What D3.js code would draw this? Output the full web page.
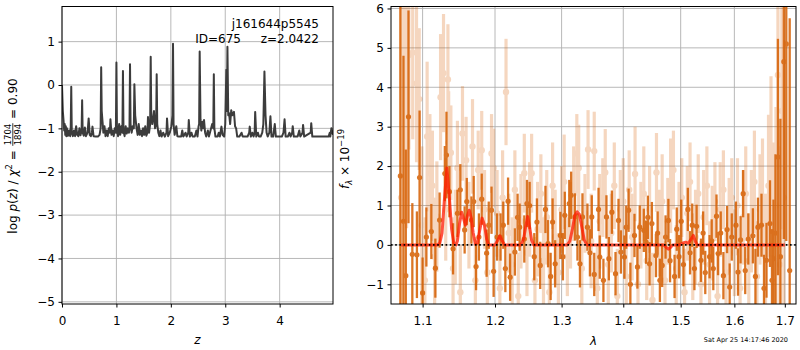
<!DOCTYPE html>
<html><head><meta charset="utf-8">
<script src="https://cdn.jsdelivr.net/npm/d3@7"></script>
<style>body{margin:0;background:#fff} svg{display:block} text{font-family:"DejaVu Sans",sans-serif}</style>
</head><body>
<svg id="c" width="800" height="350"></svg>
<script>
// ---------------- data ----------------
const zTicks = [0, 1, 2, 3, 4];
const logpTicks = [-5, -4, -3, -2, -1, 0, 1];
const lamTicks = [1.1, 1.2, 1.3, 1.4, 1.5, 1.6, 1.7];
const fluxTicks = [-1, 0, 1, 2, 3, 4, 5, 6];

// log p(z) curve [z, log p]
const pzCurve = [[0.00,0.00],[0.015,-0.60],[0.03,-0.85],[0.04,-1.05],[0.05,-0.90],[0.06,-1.15],[0.07,-0.95],[0.08,-1.18],[0.09,-1.00],[0.11,-1.17],[0.13,-1.05],[0.15,-1.18],[0.16,-1.00],[0.17,-0.04],[0.18,-1.10],[0.20,-1.18],[0.22,-1.05],[0.24,-1.18],[0.26,-0.95],[0.28,-1.15],[0.30,-1.18],[0.32,-1.00],[0.34,-1.16],[0.36,-1.05],[0.37,-0.35],[0.38,-1.10],[0.40,-1.17],[0.42,-0.98],[0.44,-1.18],[0.47,-1.10],[0.49,-0.77],[0.51,-1.15],[0.53,-1.18],[0.55,-1.10],[0.56,-0.96],[0.58,-1.18],[0.62,-1.19],[0.66,-1.19],[0.69,-1.15],[0.71,-1.00],[0.72,0.41],[0.73,-0.60],[0.745,-0.85],[0.76,-1.10],[0.78,-0.95],[0.80,-1.18],[0.82,-1.05],[0.84,-1.18],[0.86,-1.00],[0.88,-1.10],[0.89,-0.79],[0.91,-1.15],[0.93,-1.05],[0.95,-1.18],[0.97,-1.00],[0.99,-1.10],[1.00,0.52],[1.01,-1.00],[1.03,-1.18],[1.05,-0.90],[1.07,-1.15],[1.09,-0.95],[1.11,-1.10],[1.12,0.32],[1.13,-1.05],[1.15,-1.18],[1.17,-0.95],[1.19,-1.12],[1.21,-1.00],[1.23,-1.10],[1.24,-1.00],[1.25,0.48],[1.26,-0.90],[1.28,-1.10],[1.30,-0.95],[1.32,-1.00],[1.33,0.02],[1.345,-0.70],[1.37,-1.00],[1.39,-1.15],[1.41,-0.90],[1.43,-1.15],[1.45,-1.05],[1.47,-1.18],[1.49,-1.00],[1.51,-1.15],[1.53,-0.95],[1.55,-1.17],[1.57,-1.10],[1.58,-0.74],[1.60,-1.10],[1.62,-0.90],[1.63,0.65],[1.64,-0.70],[1.66,-0.90],[1.69,-0.60],[1.71,-1.00],[1.73,-0.90],[1.74,0.25],[1.75,-0.90],[1.77,-1.10],[1.79,-1.18],[1.81,-1.05],[1.83,-1.19],[1.86,-1.10],[1.89,-1.19],[1.92,-1.10],[1.93,-0.77],[1.95,-1.18],[1.98,-1.10],[2.01,-0.95],[2.03,-0.70],[2.04,0.95],[2.05,-0.90],[2.07,-1.15],[2.10,-0.95],[2.12,-1.18],[2.15,-1.19],[2.19,-1.19],[2.21,-1.05],[2.23,-1.19],[2.27,-1.10],[2.29,-1.19],[2.32,-1.10],[2.33,-0.81],[2.35,-1.19],[2.38,-1.10],[2.40,-1.19],[2.44,-1.19],[2.47,-1.05],[2.49,-1.19],[2.51,-0.95],[2.52,-0.90],[2.53,0.77],[2.545,-0.80],[2.56,-1.05],[2.58,-0.85],[2.60,-1.00],[2.61,-0.81],[2.63,-1.10],[2.65,-1.19],[2.68,-1.05],[2.70,-1.19],[2.74,-1.00],[2.76,-0.90],[2.78,-1.00],[2.79,0.25],[2.80,-1.00],[2.82,-1.19],[2.86,-1.19],[2.88,-1.10],[2.90,-1.19],[2.93,-0.96],[2.95,-1.15],[2.98,-1.19],[3.00,-0.90],[3.02,0.35],[3.03,-0.60],[3.04,0.88],[3.055,-0.70],[3.07,-0.65],[3.09,-0.90],[3.11,-0.58],[3.13,-0.70],[3.16,-0.62],[3.18,-0.95],[3.20,-1.00],[3.22,-1.19],[3.26,-1.19],[3.30,-1.10],[3.32,-1.19],[3.37,-1.19],[3.41,-1.19],[3.44,-1.10],[3.45,-0.96],[3.47,-1.19],[3.50,-1.10],[3.52,-1.19],[3.54,-1.10],[3.55,-0.62],[3.57,-1.19],[3.60,-1.10],[3.62,-1.19],[3.65,-1.19],[3.68,-1.10],[3.70,-0.90],[3.72,0.31],[3.74,-0.70],[3.76,-1.10],[3.78,-1.19],[3.81,-1.10],[3.83,-0.72],[3.85,-1.19],[3.88,-1.19],[3.91,-0.90],[3.93,-1.19],[4.00,-1.19],[4.04,-1.19],[4.07,-1.10],[4.09,-0.79],[4.11,-1.19],[4.15,-1.19],[4.18,-1.10],[4.20,-1.19],[4.23,-1.10],[4.24,-0.95],[4.26,-1.19],[4.33,-1.19],[4.36,-1.05],[4.38,-1.19],[4.42,-1.10],[4.43,-0.92],[4.45,-1.19],[4.57,-1.10],[4.58,-0.88],[4.60,-1.19],[4.90,-1.19],[4.92,-1.10],[4.93,-1.19],[4.95,-1.00],[4.98,-1.15]];

// G141 binned spectrum [lambda (micron), flux, error]
const g141Dark = [[1.071,1.75,5.0],[1.075,0.6,4.2],[1.078,-0.78,3.2],[1.0815,3.25,2.7],[1.0865,-0.24,1.3],[1.0925,-0.25,1.1],[1.096,1.71,1.7],[1.100,-1.22,0.9],[1.105,0.2,0.75],[1.1116,0.34,0.7],[1.117,-0.59,0.75],[1.1227,0.63,0.7],[1.1298,1.81,0.7],[1.132,2.28,1.1],[1.136,1.35,0.65],[1.141,-0.1,0.65],[1.147,0.8,0.6],[1.151,1.4,0.65],[1.157,0.38,0.6],[1.160,1.1,0.6],[1.1665,0.63,0.6],[1.1697,1.1,0.65],[1.173,-0.55,0.6],[1.177,0.2,0.6],[1.181,1.16,0.65],[1.188,-0.21,0.6],[1.191,0.5,0.6],[1.195,0.88,0.6],[1.198,-0.67,0.65],[1.203,0.2,0.6],[1.208,0.2,0.6],[1.212,0.5,0.6],[1.215,-0.6,0.6],[1.219,1.11,0.6],[1.222,-0.82,0.6],[1.229,-0.18,0.6],[1.233,0.7,0.6],[1.236,0.45,0.6],[1.243,0.15,0.6],[1.247,1.05,0.6],[1.251,1.0,0.6],[1.258,-0.3,0.6],[1.262,0.58,0.6],[1.267,-0.52,0.6],[1.275,0.9,0.6],[1.279,0.03,0.6],[1.283,-0.8,0.6],[1.286,0.58,0.6],[1.290,-0.48,0.6],[1.298,0.24,0.6],[1.302,-0.3,0.6],[1.305,0.75,0.6],[1.312,1.05,0.6],[1.315,1.26,0.6],[1.321,0.71,0.6],[1.325,0.2,0.6],[1.329,-0.48,0.6],[1.333,0.71,0.6],[1.341,0.45,0.6],[1.345,-0.2,0.6],[1.348,0.71,0.55],[1.352,-0.75,0.55],[1.359,0.9,0.55],[1.361,-0.31,0.55],[1.367,-0.9,0.55],[1.372,0.71,0.55],[1.376,-0.35,0.55],[1.381,0.83,0.55],[1.387,-0.73,0.55],[1.392,0.62,0.55],[1.396,-0.18,0.55],[1.402,-0.31,0.55],[1.405,0.45,0.55],[1.409,0.88,0.55],[1.412,-1.0,0.55],[1.419,0.24,0.55],[1.424,-0.56,0.55],[1.428,0.45,0.55],[1.435,0.37,0.55],[1.439,0.07,0.55],[1.442,0.7,0.55],[1.445,-0.48,0.55],[1.449,0.54,0.55],[1.456,-0.27,0.55],[1.459,0.3,0.55],[1.463,-0.9,0.55],[1.467,-0.52,0.55],[1.473,0.2,0.55],[1.478,0.62,0.55],[1.481,-0.4,0.55],[1.489,-0.8,0.55],[1.493,0.4,0.55],[1.497,-0.3,0.55],[1.501,0.6,0.55],[1.505,-0.5,0.55],[1.513,0.9,0.55],[1.517,-0.2,0.55],[1.521,0.5,0.55],[1.525,-0.6,0.55],[1.529,0.47,0.55],[1.537,-0.39,0.55],[1.541,0.3,0.55],[1.545,-0.7,0.55],[1.553,-0.3,0.55],[1.557,0.1,0.55],[1.560,-0.6,0.55],[1.566,0.73,0.55],[1.569,-0.22,0.55],[1.574,0.3,0.55],[1.579,-0.78,0.6],[1.586,0.39,0.6],[1.591,-1.07,0.6],[1.595,0.2,0.6],[1.603,0.5,0.6],[1.607,-0.69,0.6],[1.612,0.13,0.6],[1.617,1.3,0.6],[1.621,-0.65,0.6],[1.627,0.15,0.65],[1.636,0.23,0.7],[1.641,-0.8,0.7],[1.646,0.45,0.75],[1.653,0.5,0.8],[1.658,-1.1,0.85],[1.663,-0.39,0.95],[1.670,0.54,1.1],[1.674,-0.9,1.3],[1.677,-0.35,1.5],[1.681,0.3,2.0],[1.686,2.23,3.0],[1.691,-0.3,3.5],[1.698,4.65,4.5],[1.703,5.1,5.0],[1.710,-0.65,6.4]];

// G141 unbinned / second-orient spectrum [lambda, flux, error]
const g141Light = [[1.072,1.2,5.0],[1.0756,3.57,3.0],[1.077,4.97,2.5],[1.079,3.42,3.0],[1.082,4.82,2.4],[1.087,4.88,2.2],[1.092,4.1,2.0],[1.0955,3.7,1.8],[1.099,0.5,2.0],[1.103,-0.9,1.6],[1.106,2.75,1.9],[1.1097,1.82,1.5],[1.113,1.5,1.4],[1.116,-0.3,1.5],[1.119,0.72,1.4],[1.124,3.75,1.6],[1.128,4.36,1.5],[1.131,0.9,1.3],[1.134,4.2,1.4],[1.135,2.6,1.3],[1.138,2.34,1.2],[1.141,-0.6,1.3],[1.144,0.2,1.2],[1.147,1.95,1.2],[1.151,-1.2,1.2],[1.154,2.83,1.2],[1.159,2.15,1.1],[1.163,0.5,1.1],[1.168,2.5,1.2],[1.172,-0.9,1.1],[1.176,1.9,1.0],[1.181,2.4,1.0],[1.185,0.9,1.0],[1.189,-0.7,1.0],[1.195,2.32,1.0],[1.198,1.95,1.0],[1.203,0.8,1.1],[1.207,-1.1,1.0],[1.211,1.2,1.2],[1.216,3.88,1.35],[1.220,0.3,1.0],[1.225,-0.5,1.2],[1.229,1.4,1.0],[1.234,-1.3,1.1],[1.238,0.6,1.2],[1.243,1.82,1.0],[1.247,-0.2,1.1],[1.251,0.9,1.2],[1.254,1.82,1.0],[1.259,-0.9,1.1],[1.263,0.4,1.2],[1.268,1.3,1.0],[1.272,-0.4,1.1],[1.277,0.7,1.2],[1.281,-1.2,1.0],[1.286,1.5,1.1],[1.290,0.2,1.2],[1.295,-0.7,1.0],[1.300,0.9,1.1],[1.304,1.6,1.2],[1.309,-0.3,1.0],[1.314,0.5,1.1],[1.319,1.3,1.2],[1.324,2.32,1.0],[1.327,1.95,1.1],[1.332,-0.6,1.2],[1.337,0.8,1.0],[1.342,2.42,1.0],[1.347,0.1,1.2],[1.352,2.38,1.0],[1.357,-1.1,1.1],[1.361,0.6,1.2],[1.366,1.2,1.0],[1.370,1.84,1.1],[1.375,-0.5,1.2],[1.380,0.3,1.0],[1.385,1.5,1.1],[1.390,-1.3,1.2],[1.395,0.9,1.0],[1.400,1.1,1.1],[1.405,-0.8,1.2],[1.410,1.4,1.0],[1.415,0.2,1.1],[1.420,1.8,1.2],[1.425,-1.0,1.0],[1.430,0.5,1.1],[1.435,1.3,1.2],[1.440,-0.4,1.0],[1.445,0.9,1.1],[1.450,-1.4,1.2],[1.457,1.84,1.0],[1.462,0.3,1.1],[1.467,1.1,1.2],[1.472,-0.9,1.0],[1.477,0.6,1.1],[1.482,1.5,1.2],[1.487,1.9,1.0],[1.492,-0.6,1.1],[1.497,0.4,1.2],[1.502,1.2,1.0],[1.507,-1.2,1.1],[1.512,0.8,1.2],[1.517,1.6,1.0],[1.522,-0.3,1.1],[1.527,0.2,1.2],[1.532,1.3,1.0],[1.537,-1.0,1.1],[1.542,0.7,1.2],[1.548,1.5,1.0],[1.553,-0.5,1.1],[1.558,0.3,1.2],[1.563,1.1,1.0],[1.568,-1.3,1.1],[1.573,0.9,1.2],[1.579,1.4,1.0],[1.584,-0.7,1.1],[1.590,0.5,1.2],[1.595,1.2,1.0],[1.600,-0.2,1.1],[1.606,1.0,1.2],[1.611,-1.1,1.1],[1.617,0.7,1.2],[1.622,1.3,1.2],[1.628,-0.4,1.2],[1.633,0.6,1.3],[1.639,1.6,1.3],[1.644,-0.8,1.4],[1.650,0.9,1.4],[1.655,1.2,1.5],[1.661,-0.3,1.6],[1.667,1.5,1.8],[1.672,2.28,2.0],[1.677,0.4,2.2],[1.682,1.0,2.5],[1.686,4.31,2.4],[1.690,-0.5,3.0],[1.694,3.4,3.0],[1.698,1.2,4.0]];

// best-fit line model [lambda, flux]
const modelLine = [[1.072,0],[1.120,0],[1.123,0.05],[1.126,0.3],[1.129,1.1],[1.1325,1.95],[1.136,1.2],[1.139,0.4],[1.142,0.05],[1.145,0],[1.147,0.1],[1.150,0.55],[1.1528,0.83],[1.155,0.7],[1.158,0.5],[1.161,0.75],[1.1634,0.88],[1.166,0.7],[1.169,0.3],[1.172,0.02],[1.175,0.05],[1.178,0.35],[1.1815,0.68],[1.185,0.5],[1.188,0.15],[1.191,0],[1.200,0],[1.204,0.12],[1.207,0.23],[1.210,0.12],[1.214,0],[1.238,0],[1.242,0.15],[1.245,0.45],[1.248,0.72],[1.251,0.45],[1.254,0.12],[1.257,0],[1.309,0],[1.313,0.1],[1.317,0.4],[1.321,0.75],[1.3245,0.84],[1.328,0.78],[1.332,0.45],[1.336,0.12],[1.340,0],[1.470,0],[1.474,-0.06],[1.478,-0.11],[1.482,-0.06],[1.486,0],[1.498,0],[1.504,0.05],[1.509,0.07],[1.514,0.04],[1.519,0.15],[1.523,0.24],[1.527,0.08],[1.530,0],[1.700,0]];

const title1 = "j161644p5545";
const title2a = "ID=675";
const title2b = "z=2.0422";
const stamp = "Sat Apr 25 14:17:46 2020";

// ---------------- drawing ----------------
const svg = d3.select("#c");
const FONT = "DejaVu Sans";
const FS = 12;
const yTop = 6.5, yBot = 304;
const L = {x0: 62, x1: 333};
const R = {x0: 391, x1: 796};
const ORANGE = "#d55e00";

const xL = d3.scaleLinear().domain([0, 4.98]).range([L.x0, L.x1]);
const yL = d3.scaleLinear().domain([-5.05, 1.81]).range([yBot, yTop]);
const xR = d3.scaleLog().domain([1.059, 1.723]).range([R.x0, R.x1]);
const yR = d3.scaleLinear().domain([-1.5, 6.05]).range([yBot, yTop]);

const defs = svg.append("defs");
defs.append("clipPath").attr("id", "clipL").append("rect")
  .attr("x", L.x0).attr("y", yTop).attr("width", L.x1 - L.x0).attr("height", yBot - yTop);
defs.append("clipPath").attr("id", "clipR").append("rect")
  .attr("x", R.x0).attr("y", yTop).attr("width", R.x1 - R.x0).attr("height", yBot - yTop);

function grid(x, y, xt, yt, P) {
  const g = svg.append("g").attr("stroke", "#b0b0b0").attr("stroke-width", 0.9);
  g.selectAll(".gx").data(xt).join("line").attr("class", "gx")
    .attr("x1", d => x(d)).attr("x2", d => x(d)).attr("y1", yTop).attr("y2", yBot);
  g.selectAll(".gy").data(yt).join("line").attr("class", "gy")
    .attr("x1", P.x0).attr("x2", P.x1).attr("y1", d => y(d)).attr("y2", d => y(d));
}
function frameAxes(x, y, xt, yt, xf, yf, P) {
  const ax = svg.append("g").attr("transform", `translate(0,${yBot})`)
    .call(d3.axisBottom(x).tickValues(xt).tickFormat(xf).tickSize(3.5).tickPadding(8.5));
  ax.select(".domain").remove();
  ax.attr("font-size", FS).attr("font-family", FONT);
  const ay = svg.append("g").attr("transform", `translate(${P.x0},0)`)
    .call(d3.axisLeft(y).tickValues(yt).tickFormat(yf).tickSize(3.5).tickPadding(3.5));
  ay.select(".domain").remove();
  ay.attr("font-size", FS).attr("font-family", FONT);
  svg.append("rect").attr("x", P.x0).attr("y", yTop).attr("width", P.x1 - P.x0)
    .attr("height", yBot - yTop).attr("fill", "none").attr("stroke", "#000").attr("stroke-width", 1);
}

// ---- left panel ----
grid(xL, yL, zTicks, logpTicks, L);
svg.append("path").attr("clip-path", "url(#clipL)")
  .datum(pzCurve)
  .attr("d", d3.line().x(d => xL(d[0])).y(d => yL(d[1])))
  .attr("fill", "none").attr("stroke", "#3c3c3c").attr("stroke-width", 2).attr("stroke-linejoin", "round");
frameAxes(xL, yL, zTicks, logpTicks, d3.format("d"), d3.format("d"), L);

svg.append("text").attr("x", 319).attr("y", 28).attr("text-anchor", "end")
  .attr("font-size", FS).text(title1);
svg.append("text").attr("x", 241).attr("y", 43).attr("text-anchor", "end")
  .attr("font-size", FS).text(title2a);
svg.append("text").attr("x", 319).attr("y", 43).attr("text-anchor", "end")
  .attr("font-size", FS).text(title2b);

// ---- right panel ----
grid(xR, yR, lamTicks, fluxTicks, R);
const pr = svg.append("g").attr("clip-path", "url(#clipR)");
const lightG = pr.append("g").attr("opacity", 0.25);
lightG.selectAll("line").data(g141Light).join("line")
  .attr("x1", d => xR(d[0])).attr("x2", d => xR(d[0]))
  .attr("y1", d => yR(d[1] - d[2])).attr("y2", d => yR(d[1] + d[2]))
  .attr("stroke", ORANGE).attr("stroke-width", 3.2);
lightG.selectAll("circle").data(g141Light).join("circle")
  .attr("cx", d => xR(d[0])).attr("cy", d => yR(d[1])).attr("r", 3.2).attr("fill", ORANGE);

const darkG = pr.append("g").attr("opacity", 0.85);
darkG.selectAll("line").data(g141Dark).join("line")
  .attr("x1", d => xR(d[0])).attr("x2", d => xR(d[0]))
  .attr("y1", d => yR(d[1] - d[2])).attr("y2", d => yR(d[1] + d[2]))
  .attr("stroke", ORANGE).attr("stroke-width", 2.3);
darkG.selectAll("circle").data(g141Dark).join("circle")
  .attr("cx", d => xR(d[0])).attr("cy", d => yR(d[1])).attr("r", 2.6).attr("fill", ORANGE);

pr.append("path").datum(modelLine)
  .attr("d", d3.line().x(d => xR(d[0])).y(d => yR(d[1])))
  .attr("fill", "none").attr("stroke", "#ff1a00").attr("stroke-opacity", 0.75)
  .attr("stroke-width", 3).attr("stroke-linejoin", "round");
pr.append("line").attr("x1", R.x0).attr("x2", R.x1).attr("y1", yR(0)).attr("y2", yR(0))
  .attr("stroke", "#000").attr("stroke-width", 1.6).attr("stroke-dasharray", "1.6,2.6");

frameAxes(xR, yR, lamTicks, fluxTicks, d3.format(".1f"), d3.format("d"), R);

// ---- axis labels ----
svg.append("text").attr("x", (L.x0 + L.x1) / 2).attr("y", 344).attr("text-anchor", "middle")
  .attr("font-size", FS).attr("font-style", "italic").text("z");
svg.append("text").attr("x", (R.x0 + R.x1) / 2).attr("y", 345).attr("text-anchor", "middle")
  .attr("font-size", FS).attr("font-style", "italic").text("λ");

// left y label with fraction
{
  const outer = svg.append("g").attr("transform", "translate(17,156) rotate(-90)");
  const g = outer.append("g");
  const t1 = g.append("text").attr("font-size", FS);
  t1.append("tspan").text("log ");
  t1.append("tspan").attr("font-style", "italic").text("p");
  t1.append("tspan").text("(");
  t1.append("tspan").attr("font-style", "italic").text("z");
  t1.append("tspan").text(") / ");
  t1.append("tspan").attr("font-style", "italic").text("χ");
  t1.append("tspan").attr("font-size", 8.5).attr("dy", -5).text("2");
  t1.append("tspan").attr("dy", 5).text("\u00a0=\u00a0");
  const w1 = t1.node().getComputedTextLength();
  const num = g.append("text").attr("font-size", 8.5).attr("text-anchor", "middle").text("1704");
  const den = g.append("text").attr("font-size", 8.5).attr("text-anchor", "middle").text("1894");
  const fw = Math.max(num.node().getComputedTextLength(), den.node().getComputedTextLength());
  const cx = w1 + 1 + fw / 2;
  num.attr("x", cx).attr("y", -5.8);
  den.attr("x", cx).attr("y", 3.6);
  g.append("line").attr("x1", w1 + 0.5).attr("x2", w1 + fw + 1.5).attr("y1", -4.2).attr("y2", -4.2)
    .attr("stroke", "#000").attr("stroke-width", 0.8);
  const t2 = g.append("text").attr("font-size", FS).attr("x", w1 + fw + 2).text("\u00a0=\u00a00.90");
  const W = w1 + fw + 2 + t2.node().getComputedTextLength();
  g.attr("transform", `translate(${-W / 2},0)`);
}
// right y label
{
  const g = svg.append("g").attr("transform", "translate(349,159) rotate(-90)");
  const t = g.append("text").attr("font-size", FS).attr("text-anchor", "middle");
  t.append("tspan").attr("font-style", "italic").text("f");
  t.append("tspan").attr("font-style", "italic").attr("font-size", 8.5).attr("dy", 3).text("λ");
  t.append("tspan").attr("dy", -3).text("\u00a0×\u00a010");
  t.append("tspan").attr("font-size", 8.5).attr("dy", -5).text("−19");
}
svg.append("text").attr("x", 788).attr("y", 342).attr("text-anchor", "end")
  .attr("font-size", 6.5).text(stamp);
</script>
</body></html>
